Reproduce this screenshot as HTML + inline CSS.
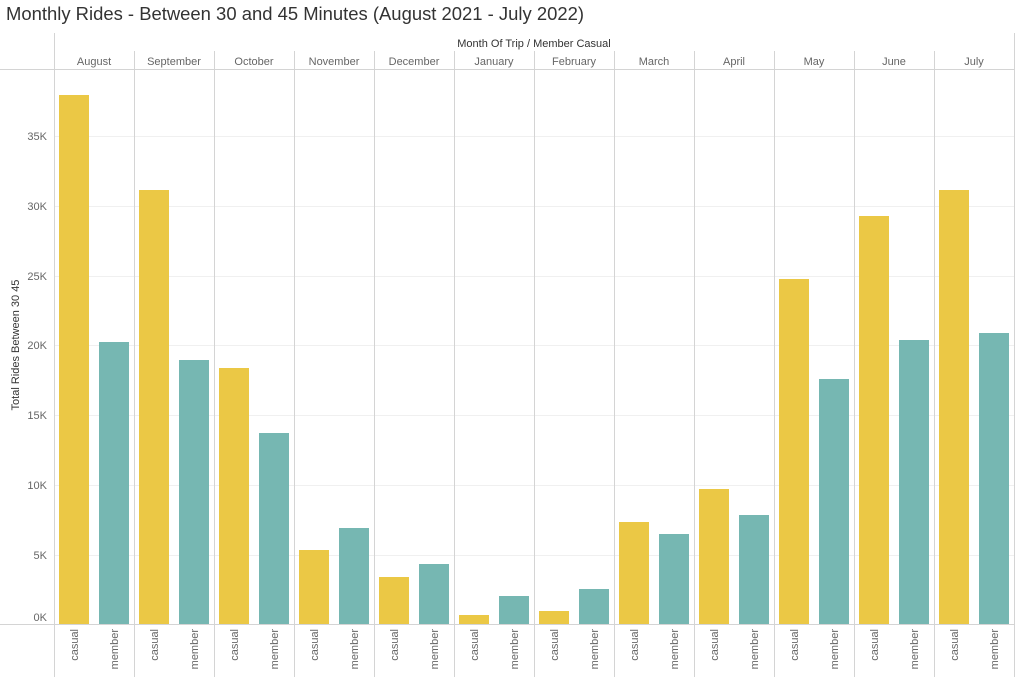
<!DOCTYPE html>
<html><head><meta charset="utf-8"><style>
body{margin:0;background:#fff;}
svg text{font-family:"Liberation Sans",sans-serif;}
</style></head><body>
<svg width="1024" height="677" viewBox="0 0 1024 677" xmlns="http://www.w3.org/2000/svg">
<text x="6" y="20" font-size="18" fill="#333" textLength="578" lengthAdjust="spacingAndGlyphs">Monthly Rides - Between 30 and 45 Minutes (August 2021 - July 2022)</text>
<text x="534" y="47" font-size="11" fill="#333" text-anchor="middle">Month Of Trip / Member Casual</text>
<g stroke="#f0f0f0" stroke-width="1">
<line x1="55" x2="1014" y1="136.5" y2="136.5"/>
<line x1="55" x2="1014" y1="206.5" y2="206.5"/>
<line x1="55" x2="1014" y1="276.5" y2="276.5"/>
<line x1="55" x2="1014" y1="345.5" y2="345.5"/>
<line x1="55" x2="1014" y1="415.5" y2="415.5"/>
<line x1="55" x2="1014" y1="485.5" y2="485.5"/>
<line x1="55" x2="1014" y1="555.5" y2="555.5"/>
</g>
<g font-size="11" fill="#666" text-anchor="end">
<text x="47" y="140">35K</text><text x="47" y="210">30K</text><text x="47" y="280">25K</text>
<text x="47" y="349">20K</text><text x="47" y="419">15K</text><text x="47" y="489">10K</text>
<text x="47" y="559">5K</text><text x="47" y="621">0K</text>
</g>
<text transform="translate(19,345) rotate(-90)" font-size="11" fill="#333" text-anchor="middle">Total Rides Between 30 45</text>
<g id="bars"></g>
<g stroke="#d4d4d4" stroke-width="1">
<line x1="54.5" x2="54.5" y1="33" y2="677"/>
<line x1="1014.5" x2="1014.5" y1="33" y2="677"/>
<line x1="0" x2="1014" y1="69.5" y2="69.5"/>
<line x1="0" x2="1014" y1="624.5" y2="624.5"/>
</g>
<g id="panels"></g>
</svg>
<script>
var months=["August","September","October","November","December","January","February","March","April","May","June","July"];
var c=[95,190,368,550,577,615,611,522,489,279,216,190];
var m=[342,360,433,528,564,596,589,534,515,379,340,333];
var ns="http://www.w3.org/2000/svg";
var bars=document.getElementById("bars"),pan=document.getElementById("panels");
function el(p,t,a,txt){var e=document.createElementNS(ns,t);for(var k in a)e.setAttribute(k,a[k]);if(txt)e.textContent=txt;p.appendChild(e);return e;}
for(var i=0;i<12;i++){
 var L=55+80*i;
 el(bars,"rect",{x:L+4,y:c[i],width:30,height:624-c[i],fill:"#ebc845"});
 el(bars,"rect",{x:L+44,y:m[i],width:30,height:624-m[i],fill:"#76b7b2"});
 if(i>0)el(pan,"line",{x1:L-0.5,x2:L-0.5,y1:51,y2:677,stroke:"#d4d4d4"});
 el(pan,"text",{x:L+39,y:65,"font-size":11,fill:"#666","text-anchor":"middle"},months[i]);
 el(pan,"text",{transform:"translate("+(L+23)+",629) rotate(-90)","font-size":11,fill:"#666","text-anchor":"end"},"casual");
 el(pan,"text",{transform:"translate("+(L+63)+",629) rotate(-90)","font-size":11,fill:"#666","text-anchor":"end"},"member");
}
</script>
</body></html>
